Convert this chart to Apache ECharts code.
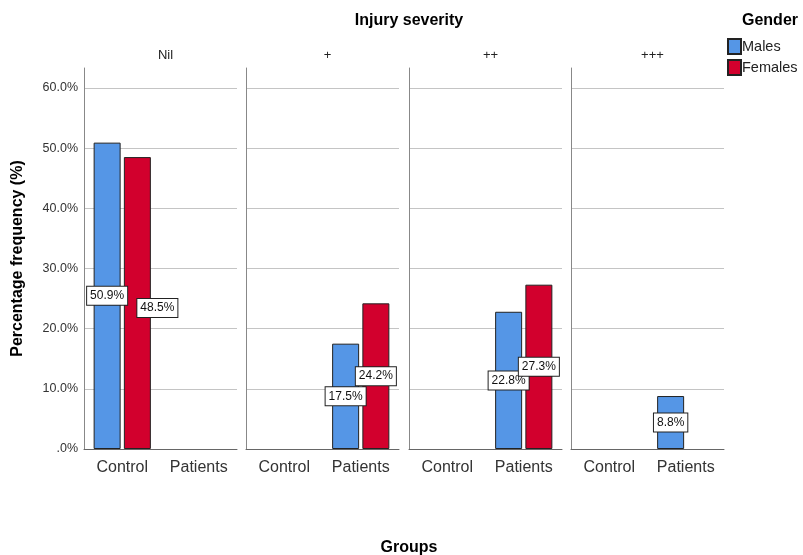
<!DOCTYPE html>
<html>
<head>
<meta charset="utf-8">
<script src="https://cdn.jsdelivr.net/npm/echarts@6/dist/echarts.min.js"></script>
<style>
html,body{margin:0;padding:0;background:#fff;}
#chart{width:803px;height:555px;}
</style>
</head>
<body>
<div id="chart"></div>
<script>
// ---- data ----
const groups = ['Control', 'Patients'];
const severities = ['Nil', '+', '++', '+++'];
const genders = ['Males', 'Females'];
// percentage per severity panel, [Control, Patients]
const malesPct = [[50.9, null], [null, 17.5], [null, 22.8], [null, 8.8]];
const femalesPct = [[48.5, null], [null, 24.2], [null, 27.3], [null, null]];
const yTicks = [0, 10, 20, 30, 40, 50, 60];

// ---- layout ----
const FONT = 'Liberation Sans, Arial, sans-serif';
const panelLeft = [84, 246, 409, 571];
const panelWidth = 153;
const panelTop = 68;
const panelHeight = 381;
const colors = ['#5596E6', '#D2002D'];

const grids = [], xAxes = [], yAxes = [], series = [], titles = [];

titles.push({ text: 'Injury severity', left: 404, top: 8, textAlign: 'center',
  textStyle: { fontFamily: FONT, fontSize: 16, fontWeight: 'bold', color: '#000' } });
titles.push({ text: 'Gender', left: 765, top: 8, textAlign: 'center',
  textStyle: { fontFamily: FONT, fontSize: 16, fontWeight: 'bold', color: '#000' } });
titles.push({ text: 'Groups', left: 404, top: 535, textAlign: 'center',
  textStyle: { fontFamily: FONT, fontSize: 16, fontWeight: 'bold', color: '#000' } });

severities.forEach((sev, i) => {
  grids.push({ left: panelLeft[i], top: panelTop, width: panelWidth, height: panelHeight, containLabel: false });
  titles.push({ text: sev, left: panelLeft[i] + panelWidth / 2, top: 44, textAlign: 'center',
    textStyle: { fontFamily: FONT, fontSize: 13, fontWeight: 'normal', color: '#222' } });
  xAxes.push({
    type: 'category', gridIndex: i, data: groups,
    axisLine: { show: true, lineStyle: { color: '#666', width: 1 } },
    axisTick: { show: false },
    axisLabel: { fontFamily: FONT, fontSize: 16, color: '#333', margin: 11 }
  });
  yAxes.push({
    type: 'value', gridIndex: i, min: 0, max: 63.3, interval: 10,
    name: i === 0 ? 'Percentage frequency (%)' : '',
    nameLocation: 'middle', nameGap: 58,
    nameTextStyle: { fontFamily: FONT, fontSize: 16, fontWeight: 'bold', color: '#000' },
    axisLine: { show: true, lineStyle: { color: '#888', width: 1 } },
    axisTick: { show: false },
    splitLine: { show: true, showMaxLine: false, lineStyle: { color: '#c4c4c4', width: 1.2 } },
    axisLabel: {
      show: i === 0, fontFamily: FONT, fontSize: 12.5, color: '#333', margin: 6,
      showMaxLabel: false,
      formatter: v => (yTicks.indexOf(v) < 0 ? '' : (v === 0 ? '.0%' : v.toFixed(1) + '%'))
    }
  });
  [malesPct, femalesPct].forEach((arr, g) => {
    series.push({
      type: 'bar', name: genders[g], xAxisIndex: i, yAxisIndex: i,
      barWidth: 27, barGap: '12%',
      itemStyle: { color: colors[g], borderColor: '#222', borderWidth: 1 },
      label: {
        show: true, position: 'inside',
        formatter: p => p.value.toFixed(1) + '%',
        fontFamily: FONT, fontSize: 12, color: '#111',
        backgroundColor: '#fff', borderColor: '#222', borderWidth: 1, padding: [3, 3]
      },
      data: arr[i].map((v, k) => {
        if (v === null) return null;
        const item = { value: v };
        // SPSS nudged this label to avoid overlap
        if (i === 0 && g === 1) item.label = { offset: [20, 5] };
        return item;
      })
    });
  });
});

const chart = echarts.init(document.getElementById('chart'), null, { renderer: 'canvas' });
chart.setOption({
  animation: false,
  backgroundColor: '#fff',
  title: titles,
  legend: {
    orient: 'vertical', left: 722, top: 33, itemWidth: 13, itemHeight: 15, itemGap: 4,
    icon: 'rect', data: genders,
    textStyle: { fontFamily: FONT, fontSize: 14.5, color: '#222', padding: [0, 0, 0, -4] }
  },
  grid: grids, xAxis: xAxes, yAxis: yAxes, series: series
});
</script>
</body>
</html>
